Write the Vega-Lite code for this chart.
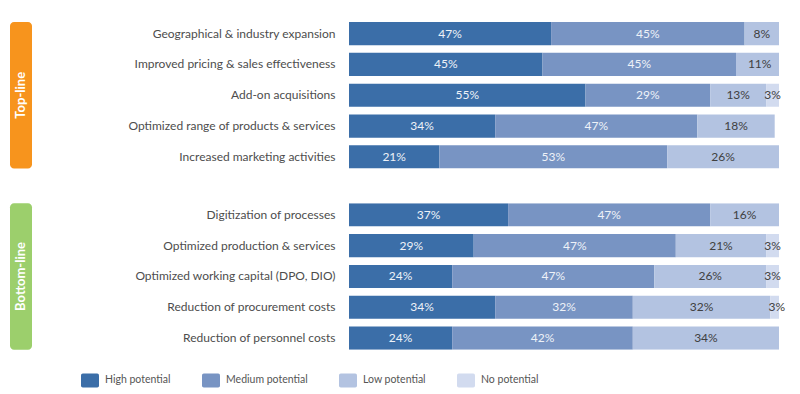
{
  "$schema": "https://vega.github.io/schema/vega-lite/v6.json",
  "padding": {"left": 10, "top": 22, "right": 5, "bottom": 5},
  "background": "white",
  "config": {"view": {"stroke": null}, "font": "Lato"},
  "datasets": {
    "top": [
      {"category": "Geographical & industry expansion", "level": "High potential", "rank": 1, "value": 0.47},
      {"category": "Geographical & industry expansion", "level": "Medium potential", "rank": 2, "value": 0.45},
      {"category": "Geographical & industry expansion", "level": "Low potential", "rank": 3, "value": 0.08},
      {"category": "Improved pricing & sales effectiveness", "level": "High potential", "rank": 1, "value": 0.45},
      {"category": "Improved pricing & sales effectiveness", "level": "Medium potential", "rank": 2, "value": 0.45},
      {"category": "Improved pricing & sales effectiveness", "level": "Low potential", "rank": 3, "value": 0.11},
      {"category": "Add-on acquisitions", "level": "High potential", "rank": 1, "value": 0.55},
      {"category": "Add-on acquisitions", "level": "Medium potential", "rank": 2, "value": 0.29},
      {"category": "Add-on acquisitions", "level": "Low potential", "rank": 3, "value": 0.13},
      {"category": "Add-on acquisitions", "level": "No potential", "rank": 4, "value": 0.03},
      {"category": "Optimized range of  products & services", "level": "High potential", "rank": 1, "value": 0.34},
      {"category": "Optimized range of  products & services", "level": "Medium potential", "rank": 2, "value": 0.47},
      {"category": "Optimized range of  products & services", "level": "Low potential", "rank": 3, "value": 0.18},
      {"category": "Increased marketing activities", "level": "High potential", "rank": 1, "value": 0.21},
      {"category": "Increased marketing activities", "level": "Medium potential", "rank": 2, "value": 0.53},
      {"category": "Increased marketing activities", "level": "Low potential", "rank": 3, "value": 0.26}
    ],
    "bottom": [
      {"category": "Digitization of processes", "level": "High potential", "rank": 1, "value": 0.37},
      {"category": "Digitization of processes", "level": "Medium potential", "rank": 2, "value": 0.47},
      {"category": "Digitization of processes", "level": "Low potential", "rank": 3, "value": 0.16},
      {"category": "Optimized production  & services", "level": "High potential", "rank": 1, "value": 0.29},
      {"category": "Optimized production  & services", "level": "Medium potential", "rank": 2, "value": 0.47},
      {"category": "Optimized production  & services", "level": "Low potential", "rank": 3, "value": 0.21},
      {"category": "Optimized production  & services", "level": "No potential", "rank": 4, "value": 0.03},
      {"category": "Optimized working capital (DPO, DIO)", "level": "High potential", "rank": 1, "value": 0.24},
      {"category": "Optimized working capital (DPO, DIO)", "level": "Medium potential", "rank": 2, "value": 0.47},
      {"category": "Optimized working capital (DPO, DIO)", "level": "Low potential", "rank": 3, "value": 0.26},
      {"category": "Optimized working capital (DPO, DIO)", "level": "No potential", "rank": 4, "value": 0.03},
      {"category": "Reduction of procurement costs", "level": "High potential", "rank": 1, "value": 0.34},
      {"category": "Reduction of procurement costs", "level": "Medium potential", "rank": 2, "value": 0.32},
      {"category": "Reduction of procurement costs", "level": "Low potential", "rank": 3, "value": 0.32},
      {"category": "Reduction of procurement costs", "level": "No potential", "rank": 4, "value": 0.03},
      {"category": "Reduction of personnel costs", "level": "High potential", "rank": 1, "value": 0.24},
      {"category": "Reduction of personnel costs", "level": "Medium potential", "rank": 2, "value": 0.42},
      {"category": "Reduction of personnel costs", "level": "Low potential", "rank": 3, "value": 0.34}
    ]
  },
  "spacing": 34.2,
  "vconcat": [
    {
      "bounds": "flush",
      "spacing": 317,
      "hconcat": [
        {
          "width": 22,
          "height": 146.5,
          "data": {"values": [{"group": "Top-line"}]},
          "layer": [
            {
              "mark": {"type": "rect", "cornerRadius": 4, "color": "#F7941D"},
              "encoding": {
                "x": {"datum": 0, "type": "quantitative", "scale": {"domain": [0, 1]}, "axis": null},
                "x2": {"datum": 1},
                "y": {"datum": 0, "type": "quantitative", "scale": {"domain": [0, 1]}, "axis": null},
                "y2": {"datum": 1}
              }
            },
            {
              "mark": {"type": "text", "angle": 270, "color": "white", "fontWeight": "bold", "fontSize": 13, "baseline": "middle", "align": "center"},
              "encoding": {
                "text": {"field": "group"},
                "x": {"datum": 0.5, "type": "quantitative"},
                "y": {"datum": 0.5, "type": "quantitative"}
              }
            }
          ]
        },
        {
          "width": 430,
          "height": 146.5,
          "data": {"name": "top"},
          "encoding": {
            "y": {"field": "category", "type": "nominal", "sort": null, "scale": {"paddingInner": 0.25, "paddingOuter": 0},
              "axis": {"title": null, "domain": false, "ticks": false, "labelPadding": 14, "labelFontSize": 12, "labelColor": "#4d4d4d", "labelLimit": 400}},
            "order": {"field": "rank"}
          },
          "layer": [
            {
              "mark": {"type": "bar", "clip": true},
              "encoding": {
                "x": {"field": "value", "type": "quantitative", "stack": "zero", "scale": {"domain": [0, 1]}, "axis": null},
                "color": {"field": "level", "type": "nominal",
                  "scale": {"domain": ["High potential", "Medium potential", "Low potential", "No potential"], "range": ["#3b6ea8", "#7894c3", "#b3c3e1", "#d2dbef"]},
                  "legend": {"orient": "none", "legendX": 71, "legendY": 349, "direction": "horizontal", "columns": 4, "title": null,
                    "symbolType": "M-0.8,-0.78H0.8Q1,-0.78 1,-0.58V0.58Q1,0.78 0.8,0.78H-0.8Q-1,0.78 -1,0.58V-0.58Q-1,-0.78 -0.8,-0.78Z",
                    "symbolSize": 324, "symbolStrokeWidth": 0, "labelFontSize": 10.5, "labelColor": "#555555", "labelOffset": 6, "columnPadding": 31}}
              }
            },
            {
              "mark": {"type": "text", "fontSize": 12},
              "encoding": {
                "x": {"field": "value", "type": "quantitative", "stack": "zero", "bandPosition": 0.5},
                "detail": {"field": "level"},
                "text": {"field": "value", "type": "quantitative", "format": ".0%"},
                "color": {"condition": {"test": "datum.rank <= 2", "value": "#eef2f8"}, "value": "#404040"}
              }
            }
          ]
        }
      ]
    },
    {
      "bounds": "flush",
      "spacing": 317,
      "hconcat": [
        {
          "width": 22,
          "height": 146.5,
          "data": {"values": [{"group": "Bottom-line"}]},
          "layer": [
            {
              "mark": {"type": "rect", "cornerRadius": 4, "color": "#9CCF6C"},
              "encoding": {
                "x": {"datum": 0, "type": "quantitative", "scale": {"domain": [0, 1]}, "axis": null},
                "x2": {"datum": 1},
                "y": {"datum": 0, "type": "quantitative", "scale": {"domain": [0, 1]}, "axis": null},
                "y2": {"datum": 1}
              }
            },
            {
              "mark": {"type": "text", "angle": 270, "color": "white", "fontWeight": "bold", "fontSize": 13, "baseline": "middle", "align": "center"},
              "encoding": {
                "text": {"field": "group"},
                "x": {"datum": 0.5, "type": "quantitative"},
                "y": {"datum": 0.5, "type": "quantitative"}
              }
            }
          ]
        },
        {
          "width": 430,
          "height": 146.5,
          "data": {"name": "bottom"},
          "encoding": {
            "y": {"field": "category", "type": "nominal", "sort": null, "scale": {"paddingInner": 0.25, "paddingOuter": 0},
              "axis": {"title": null, "domain": false, "ticks": false, "labelPadding": 14, "labelFontSize": 12, "labelColor": "#4d4d4d", "labelLimit": 400}},
            "order": {"field": "rank"}
          },
          "layer": [
            {
              "mark": {"type": "bar", "clip": true},
              "encoding": {
                "x": {"field": "value", "type": "quantitative", "stack": "zero", "scale": {"domain": [0, 1]}, "axis": null},
                "color": {"field": "level", "type": "nominal",
                  "scale": {"domain": ["High potential", "Medium potential", "Low potential", "No potential"], "range": ["#3b6ea8", "#7894c3", "#b3c3e1", "#d2dbef"]},
                  "legend": {"orient": "none", "legendX": 71, "legendY": 349, "direction": "horizontal", "columns": 4, "title": null,
                    "symbolType": "M-0.8,-0.78H0.8Q1,-0.78 1,-0.58V0.58Q1,0.78 0.8,0.78H-0.8Q-1,0.78 -1,0.58V-0.58Q-1,-0.78 -0.8,-0.78Z",
                    "symbolSize": 324, "symbolStrokeWidth": 0, "labelFontSize": 10.5, "labelColor": "#555555", "labelOffset": 6, "columnPadding": 31}}
              }
            },
            {
              "mark": {"type": "text", "fontSize": 12},
              "encoding": {
                "x": {"field": "value", "type": "quantitative", "stack": "zero", "bandPosition": 0.5},
                "detail": {"field": "level"},
                "text": {"field": "value", "type": "quantitative", "format": ".0%"},
                "color": {"condition": {"test": "datum.rank <= 2", "value": "#eef2f8"}, "value": "#404040"}
              }
            }
          ]
        }
      ]
    }
  ]
}
